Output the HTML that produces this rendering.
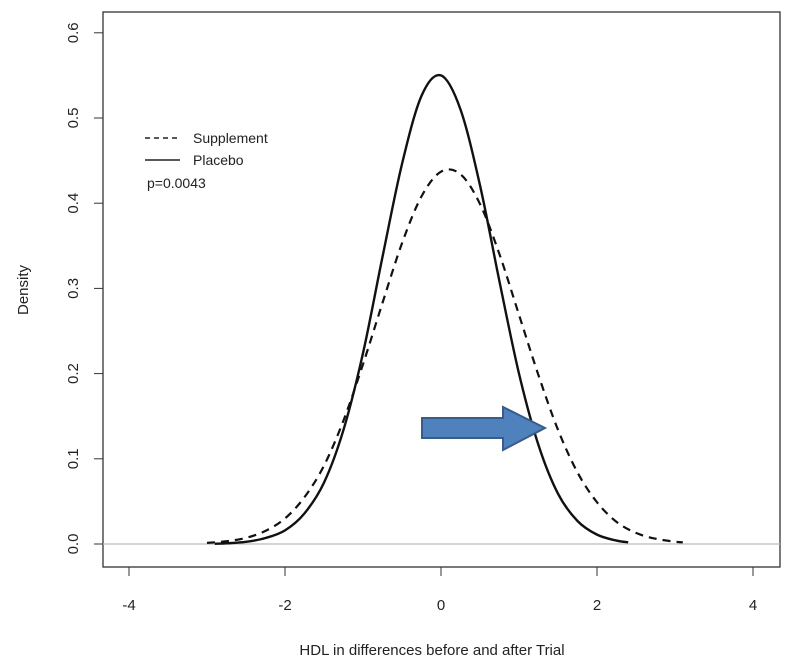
<!DOCTYPE html>
<html><head><meta charset="utf-8"><style>
body{margin:0;background:#fff;}
svg text{font-family:"Liberation Sans",sans-serif;fill:#222;}
</style></head><body>
<svg id="chart" width="788" height="667" xmlns="http://www.w3.org/2000/svg">
<rect x="103" y="12" width="677" height="555" fill="none" stroke="#333" stroke-width="1.3"/>
<g id="axes"></g>
<g id="curves"></g>
<g>
<line x1="145" y1="138" x2="180" y2="138" stroke="#222" stroke-width="1.5" stroke-dasharray="5,4"/>
<text x="193" y="143" font-size="14">Supplement</text>
<line x1="145" y1="160" x2="180" y2="160" stroke="#222" stroke-width="1.5"/>
<text x="193" y="165" font-size="14">Placebo</text>
<text x="147" y="188" font-size="14">p=0.0043</text>
</g>
<polygon points="422,418 503,418 503,407 545,428 503,450 503,438 422,438" fill="#4f81bd" stroke="#385d8a" stroke-width="2"/>
<text x="432" y="655" font-size="15" text-anchor="middle">HDL in differences before and after Trial</text>
<text transform="translate(28,290) rotate(-90)" font-size="15" text-anchor="middle">Density</text>
</svg>
<script>
const xTicks=[-4,-2,0,2,4];
const yTicks=[0.0,0.1,0.2,0.3,0.4,0.5,0.6];
const yTickLabels=["0.0","0.1","0.2","0.3","0.4","0.5","0.6"];
const placeboX=[-2.9,-2.75,-2.5,-2.25,-2,-1.75,-1.5,-1.25,-1,-0.75,-0.5,-0.25,0,0.25,0.5,0.75,1,1.25,1.5,1.75,2,2.25,2.4];
const placeboY=[0.0003,0.0008,0.0025,0.007,0.016,0.036,0.072,0.134,0.224,0.337,0.446,0.526,0.55,0.51,0.421,0.308,0.2,0.116,0.059,0.027,0.011,0.004,0.002];
const suppX=[-3,-2.75,-2.5,-2.25,-2,-1.75,-1.5,-1.25,-1,-0.75,-0.5,-0.25,0,0.25,0.5,0.75,1,1.25,1.5,1.75,2,2.25,2.5,2.75,3,3.1];
const suppY=[0.0013,0.0032,0.0072,0.0154,0.03,0.055,0.092,0.145,0.211,0.283,0.353,0.408,0.437,0.434,0.399,0.34,0.269,0.198,0.134,0.084,0.049,0.026,0.013,0.0062,0.0027,0.002];
const X=v=>441+v*78, Y=v=>544-v*852;
const NS="http://www.w3.org/2000/svg";
const axes=document.getElementById('axes'), curves=document.getElementById('curves');
function mk(t,a,p){const e=document.createElementNS(NS,t);for(const k in a)e.setAttribute(k,a[k]);p.appendChild(e);return e;}
const zl=mk('line',{x1:103,x2:780,y1:Y(0),y2:Y(0),stroke:'#bbb','stroke-width':1.2},axes);


xTicks.forEach(v=>{
 const l=mk('line',{x1:X(v),x2:X(v),y1:567,y2:576,stroke:'#333'},axes);
 
 
 const t=mk('text',{x:X(v),y:610,'font-size':15,'text-anchor':'middle'},axes);t.textContent=v;
 
 
});
yTicks.forEach((v,i)=>{
 const l=mk('line',{x1:94,x2:103,y1:Y(v),y2:Y(v),stroke:'#333'},axes);
 
 
 const t=mk('text',{transform:`translate(78,${Y(v)}) rotate(-90)`,'font-size':15,'text-anchor':'middle'},axes);t.textContent=yTickLabels[i];
 
 
});
function path(xs,ys){
 const p=xs.map((x,i)=>[X(x),Y(ys[i])]);let d=`M${p[0][0]},${p[0][1]}`;
 for(let i=0;i<p.length-1;i++){const a=p[i-1]||p[i],b=p[i],c=p[i+1],e=p[i+2]||c;
 d+=` C${b[0]+(c[0]-a[0])/6},${b[1]+(c[1]-a[1])/6} ${c[0]-(e[0]-b[0])/6},${c[1]-(e[1]-b[1])/6} ${c[0]},${c[1]}`;}
 return d;}
const s=mk('path',{d:path(suppX,suppY),fill:'none',stroke:'#111','stroke-width':2.2,'stroke-dasharray':'8,6'},curves);


const pl=mk('path',{d:path(placeboX,placeboY),fill:'none',stroke:'#111','stroke-width':2.4},curves);


</script>
</body></html>
